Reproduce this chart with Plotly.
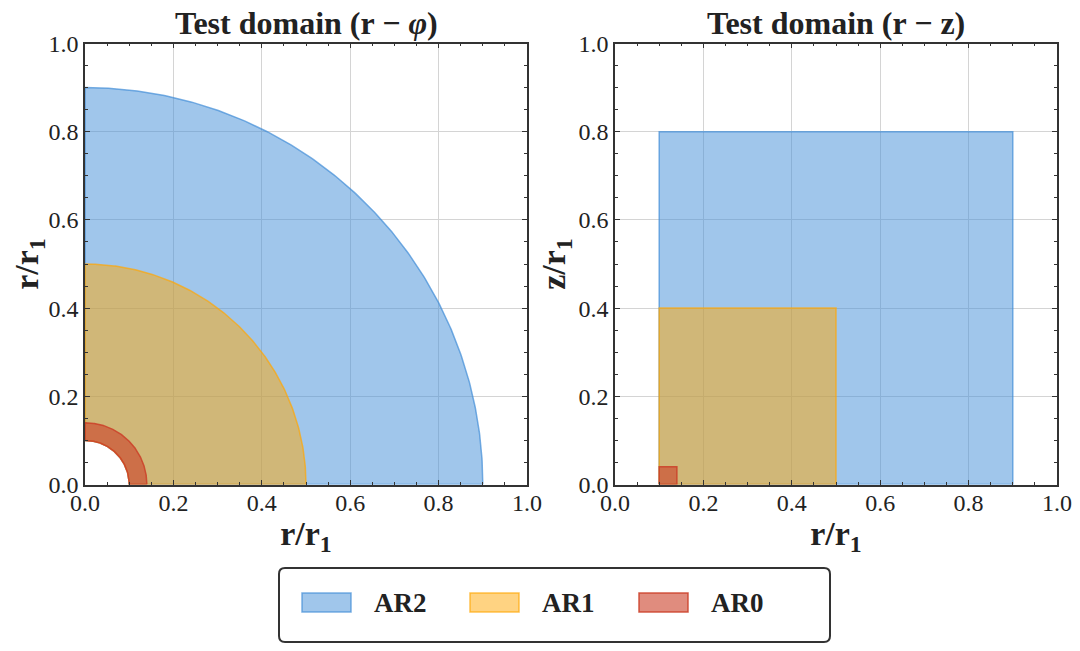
"""
Test domains of the AR0 / AR1 / AR2 regions in the r-phi and r-z planes.
"""

import numpy as np
import plotly.graph_objects as go

# region data (normalised by r1)
REGIONS = ["AR2", "AR1", "AR0"]
R_INNER = [0.1, 0.1, 0.1]
R_OUTER = [0.9, 0.5, 0.14]
Z_MAX = [0.8, 0.4, 0.04]

FILL_COLORS = ["rgba(65,141,215,0.5)", "rgba(255,167,5,0.5)", "rgba(203,63,40,0.6)"]
LINE_COLORS = ["rgba(65,141,215,0.7)", "rgba(255,167,5,0.7)", "rgba(203,63,40,0.85)"]

TICKS = [0.0, 0.2, 0.4, 0.6, 0.8, 1.0]
TICK_TEXT = ["0.0", "0.2", "0.4", "0.6", "0.8", "1.0"]

FONT = "Liberation Serif"
W, H = 1080, 651
OFF = 8  # the page body adds an 8px margin around the plot div


def px(x):
    return (x - OFF) / W


def py(y):
    return 1 - (y - OFF) / H


def quarter_annulus(r_in, r_out, n=240):
    """Outline of a quarter ring between r_in and r_out in the first quadrant."""
    th = np.linspace(0.0, np.pi / 2, n)
    xs = np.concatenate([r_out * np.cos(th), r_in * np.cos(th[::-1]), [r_out]])
    ys = np.concatenate([r_out * np.sin(th), r_in * np.sin(th[::-1]), [0.0]])
    return xs, ys


fig = go.Figure()

for name, r0, r1, fc, lc in zip(REGIONS, R_INNER, R_OUTER, FILL_COLORS, LINE_COLORS):
    xs, ys = quarter_annulus(r0, r1)
    fig.add_trace(go.Scatter(
        x=xs, y=ys, mode="lines", fill="toself", fillcolor=fc,
        line=dict(color=lc, width=1.5), name=name,
        hoverinfo="skip", xaxis="x", yaxis="y",
    ))

for name, r0, r1, zt, fc, lc in zip(REGIONS, R_INNER, R_OUTER, Z_MAX, FILL_COLORS, LINE_COLORS):
    fig.add_trace(go.Scatter(
        x=[r0, r1, r1, r0, r0], y=[0, 0, zt, zt, 0], mode="lines", fill="toself",
        fillcolor=fc, line=dict(color=lc, width=1.5), name=name,
        hoverinfo="skip", xaxis="x2", yaxis="y2",
    ))

axis_style = dict(
    range=[0, 1], tickvals=TICKS, ticktext=TICK_TEXT, ticks="inside", ticklen=5,
    tickwidth=1.2, tickcolor="#333", showline=True, linecolor="#333", linewidth=1.5,
    mirror="allticks", showgrid=True, gridcolor="#d4d4d4", gridwidth=1, zeroline=False,
    tickfont=dict(family=FONT, size=24, color="#222"),
    minor=dict(dtick=0.05, tick0=0, ticks="inside", ticklen=3, tickcolor="#333", showgrid=False),
    fixedrange=True, automargin=False,
)
title_font = dict(family=FONT, size=34, color="#222")

y_dom = [py(484.5), py(43.5)]
fig.update_layout(
    width=W, height=H,
    margin=dict(l=0, r=0, t=0, b=0),
    paper_bgcolor="white", plot_bgcolor="white",
    showlegend=False,
    xaxis=dict(axis_style, domain=[px(85), px(527)], anchor="y", ticklabelstandoff=-4,
               title=dict(text="<b>r/r<sub>1</sub></b>", font=title_font, standoff=6)),
    yaxis=dict(axis_style, domain=y_dom, anchor="x",
               title=dict(text="<b>r/r<sub>1</sub></b>", font=title_font, standoff=3)),
    xaxis2=dict(axis_style, domain=[px(615), px(1057)], anchor="y2", ticklabelstandoff=-4,
                title=dict(text="<b>r/r<sub>1</sub></b>", font=title_font, standoff=6)),
    yaxis2=dict(axis_style, domain=y_dom, anchor="x2",
                title=dict(text="<b>z/r<sub>1</sub></b>", font=title_font, standoff=3)),
)

for text, xc in [("<b>Test domain (r − <i>φ</i>)</b>", 306), ("<b>Test domain (r − z)</b>", 836)]:
    fig.add_annotation(text=text, x=px(xc), y=py(23), xref="paper", yref="paper",
                       showarrow=False, xanchor="center", yanchor="middle",
                       font=dict(family=FONT, size=32, color="#222"))

# legend drawn by hand: rounded frame, colour swatches, labels
x0, x1 = px(279), px(830)
y0, y1 = py(642), py(568)
rx, ry = 6 / W, 6 / H
frame = (
    f"M{x0 + rx},{y0} L{x1 - rx},{y0} Q{x1},{y0} {x1},{y0 + ry} "
    f"L{x1},{y1 - ry} Q{x1},{y1} {x1 - rx},{y1} "
    f"L{x0 + rx},{y1} Q{x0},{y1} {x0},{y1 - ry} "
    f"L{x0},{y0 + ry} Q{x0},{y0} {x0 + rx},{y0} Z"
)
fig.add_shape(type="path", path=frame, xref="paper", yref="paper",
              line=dict(color="#333", width=2), fillcolor="rgba(0,0,0,0)")

swatch_left = [302, 470, 639]
for name, sx, fc, lc in zip(REGIONS, swatch_left, FILL_COLORS, LINE_COLORS):
    fig.add_shape(type="rect", xref="paper", yref="paper",
                  x0=px(sx), x1=px(sx + 49), y0=py(612), y1=py(593),
                  fillcolor=fc, line=dict(color=lc, width=1.5))
    fig.add_annotation(text=f"<b>{name}</b>", x=px(sx + 70), y=py(603),
                       xref="paper", yref="paper", showarrow=False,
                       xanchor="left", yanchor="middle",
                       font=dict(family=FONT, size=27, color="#222"))

fig.write_html("out.html")
